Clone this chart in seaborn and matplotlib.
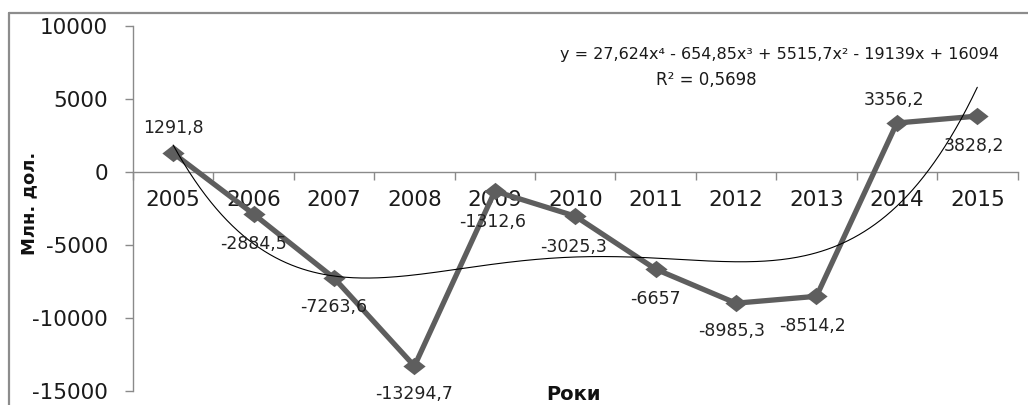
import numpy as np
import pandas as pd
import matplotlib
matplotlib.use("Agg")
import matplotlib.pyplot as plt
from matplotlib.lines import Line2D
from matplotlib.path import Path
import seaborn as sns

# Balance values, mln USD, by year
years = ["2005", "2006", "2007", "2008", "2009", "2010",
         "2011", "2012", "2013", "2014", "2015"]
balance = [1291.8, -2884.5, -7263.6, -13294.7, -1312.6, -3025.3,
           -6657.0, -8985.3, -8514.2, 3356.2, 3828.2]

# 4th-degree polynomial trend (x = 1..11), highest power first
trend_coeffs = [27.624, -654.85, 5515.7, -19139.0, 16094.0]
trend_r2 = "0,5698"

y_ticks = [-15000, -10000, -5000, 0, 5000, 10000]

# label placement (pixels) relative to each point
label_offsets = [(0, 25), (0, -30), (0, -29), (0, -28), (-2, -31), (-2, -31),
                 (0, -30), (-4, -28), (-4, -30), (-3, 23), (-3, -30)]

sns.set_theme(style="white")
plt.rcParams["font.family"] = ["DejaVu Sans"]

W, H = 1028, 405
fig = plt.figure(figsize=(W / 100, H / 100), dpi=100)
fig.patch.set_facecolor("white")

x0, x1, yt, yb = 133, 1017.5, 26, 391
ax = fig.add_axes([x0 / W, 1 - yb / H, (x1 - x0) / W, (yb - yt) / H])
ax.set_facecolor("white")

df = pd.DataFrame({"idx": np.arange(len(years)), "value": balance})

line_col = "#5e5e5e"
diamond = Path([(-1.0, 0.0), (0.0, 0.78), (1.0, 0.0), (0.0, -0.78), (-1.0, 0.0)],
               [Path.MOVETO, Path.LINETO, Path.LINETO, Path.LINETO, Path.CLOSEPOLY])
sns.lineplot(data=df, x="idx", y="value", ax=ax, color=line_col, linewidth=3.8,
             marker=diamond, markersize=16, markeredgewidth=0,
             markerfacecolor=line_col, zorder=3)

# trendline
xs = np.linspace(1, 11, 300)
ys = np.polyval(trend_coeffs, xs)
ax.plot(xs - 1, ys, color="black", linewidth=0.8, zorder=4)

# data labels
for i, v in enumerate(balance):
    txt = f"{v:g}".replace(".", ",")
    dx, dy = label_offsets[i]
    ax.annotate(txt, (i, v), xytext=(dx, dy), textcoords="offset pixels",
                ha="center", va="center", fontsize=12.5, color="#222222", zorder=5)

ax.set_xlim(-0.5, len(years) - 0.5)
ax.set_ylim(-15000, 10000)

axis_col = "#8a8a8a"
for s in ["top", "right"]:
    ax.spines[s].set_visible(False)
ax.spines["bottom"].set_position(("data", 0))
ax.spines["bottom"].set_color(axis_col)
ax.spines["left"].set_color(axis_col)
ax.spines["bottom"].set_linewidth(1.0)
ax.spines["left"].set_linewidth(1.0)

ax.set_yticks(y_ticks)
ax.set_yticklabels([str(t) for t in y_ticks])
ax.tick_params(axis="y", which="major", direction="out", length=6, width=1,
               color=axis_col, pad=12, labelsize=15.5, labelcolor="#1a1a1a", left=True)

ax.set_xticks(np.arange(-0.5, len(years), 1.0))
ax.set_xticklabels([])
ax.set_xticks(np.arange(len(years)), minor=True)
ax.set_xticklabels(years, minor=True)
ax.tick_params(axis="x", which="major", direction="out", length=6, width=1,
               color=axis_col, bottom=True)
ax.tick_params(axis="x", which="minor", length=0, pad=13, labelsize=15.5,
               labelcolor="#1a1a1a")
ax.grid(False)

ax.set_xlabel("")
ax.set_ylabel("")
fig.text(574 / W, 1 - 395 / H, "Роки", ha="center", va="center",
         fontsize=14, fontweight="bold", color="#111111")
fig.text(29 / W, 1 - 203 / H, "Млн. дол.", ha="center", va="center",
         rotation=90, fontsize=13, fontweight="bold", color="#111111")

# trend equation
eq = ("y = " + "{}x⁴ - {}x³ + {}x² - {}x + {}".format(
    *[f"{abs(c):g}".replace(".", ",") for c in trend_coeffs]))
fig.text(780 / W, 1 - 55 / H, eq, ha="center", va="center", fontsize=11.5,
         color="#1a1a1a")
fig.text(706 / W, 1 - 80 / H, "R² = " + trend_r2, ha="center", va="center",
         fontsize=12, color="#1a1a1a")

# outer frame (left and top edges)
frame_col = "#8c8c8c"
fig.add_artist(Line2D([8.5 / W, 8.5 / W], [0, 1 - 13 / H], transform=fig.transFigure,
                      color=frame_col, linewidth=1.6))
fig.add_artist(Line2D([8.5 / W, 1], [1 - 13 / H, 1 - 13 / H], transform=fig.transFigure,
                      color=frame_col, linewidth=1.6))

fig.savefig("out.png", dpi=100)
